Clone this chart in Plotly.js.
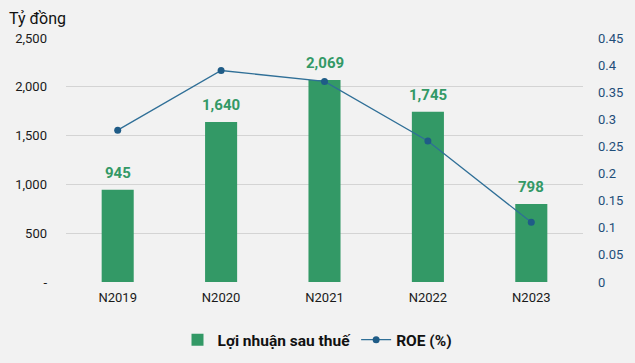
<!DOCTYPE html>
<html><head><meta charset="utf-8">
<script src="https://cdn.plot.ly/plotly-3.0.1.min.js"></script>
<style>body{margin:0;background:#f2f2f2}#c{width:635px;height:363px}</style>
</head><body><div id="c"></div>
<script>
const categories = ["N2019","N2020","N2021","N2022","N2023"];
const profit = [945, 1640, 2069, 1745, 798];
const roe = [0.28, 0.39, 0.37, 0.26, 0.11];
const leftTickVals = [0, 500, 1000, 1500, 2000, 2500];
const leftTickText = ["-", "500", "1,000", "1,500", "2,000", "2,500"];
const rightTickVals = [0,0.05,0.1,0.15,0.2,0.25,0.3,0.35,0.4,0.45];
const rightTickText = ["0","0.05","0.1","0.15","0.2","0.25","0.3","0.35","0.4","0.45"];

const data = [
  {type:"bar", x:categories, y:profit, name:"Lợi nhuận sau thuế",
   marker:{color:"#339966"}},
  {type:"scatter", mode:"lines+markers", x:categories, y:roe, yaxis:"y2", name:"ROE (%)",
   line:{color:"#2f6f97", width:1.3}, marker:{color:"#1f5c87", size:7}}
];
const labels = categories.map((c,i)=>({
  x:c, y:profit[i], xref:"x", yref:"y", yanchor:"bottom", yshift:6, showarrow:false,
  text:profit[i].toLocaleString("en-US"),
  font:{family:"Roboto", size:15, color:"#339966", weight:"bold"}
}));
const layout = {
  width:635, height:363,
  paper_bgcolor:"#f2f2f2", plot_bgcolor:"#f2f2f2",
  margin:{l:66, r:52, t:38, b:81, autoexpand:false},
  font:{family:"Roboto", size:13, color:"#1a1a1a"},
  bargap:0.69,
  showlegend:true,
  legend:{orientation:"h", x:0.5, xanchor:"center", xref:"container", yref:"container", y:0.063, yanchor:"middle",
          font:{family:"Roboto", size:15.5, color:"#111", weight:"bold"}, traceorder:"normal", itemwidth:30},
  xaxis:{showgrid:false, zeroline:false, showline:false, ticks:"", ticklabelstandoff:6, tickfont:{size:13, color:"#1a1a1a"}},
  yaxis:{range:[0,2500], tickvals:leftTickVals, ticktext:leftTickText, showgrid:true,
         gridcolor:"#d4d4d4", gridwidth:1, zeroline:false, ticks:"", ticklabelstandoff:18,
         tickfont:{size:13, color:"#1a1a1a"}},
  yaxis2:{overlaying:"y", side:"right", range:[0,0.45], tickvals:rightTickVals, ticktext:rightTickText,
          showgrid:false, zeroline:false, ticks:"", ticklabelstandoff:14,
          tickfont:{size:13, color:"#1f4e79"}},
  annotations:[{text:"Tỷ đồng", xref:"paper", yref:"paper", x:-0.115, y:1.0, xanchor:"left", yanchor:"bottom",
                yshift:8, showarrow:false, font:{family:"Roboto", size:16, color:"#111"}}].concat(labels)
};
Plotly.newPlot("c", data, layout, {displayModeBar:false});
</script></body></html>
